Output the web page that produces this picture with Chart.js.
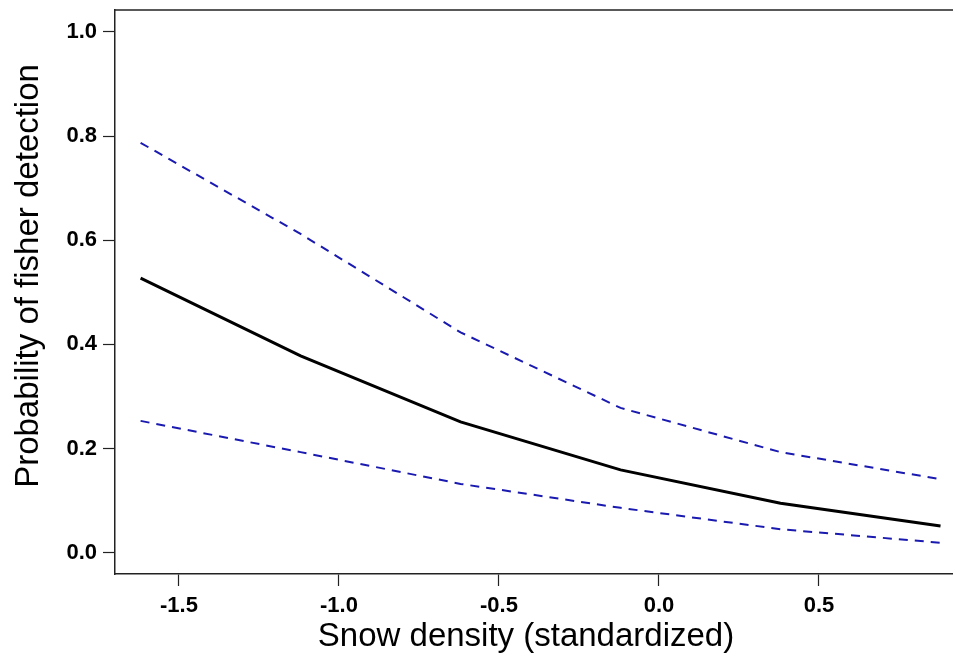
<!DOCTYPE html>
<html>
<head>
<meta charset="utf-8">
<script src="https://cdn.jsdelivr.net/npm/chart.js@4.4.0/dist/chart.umd.min.js"></script>
<style>
html,body{margin:0;padding:0;background:#fff;overflow:hidden;}
canvas{display:block;}
</style>
</head>
<body>
<canvas id="c" width="953" height="665"></canvas>
<script>
// Data
const snowDensity = [-1.62, -1.12, -0.62, -0.12, 0.38, 0.88];
const detectionMean = [0.527, 0.378, 0.251, 0.159, 0.095, 0.051];
const upperCI = [0.787, 0.612, 0.423, 0.278, 0.193, 0.141];
const lowerCI = [0.253, 0.193, 0.132, 0.086, 0.045, 0.019];
const xTicks = [-1.5, -1.0, -0.5, 0.0, 0.5];
const yTicks = [0.0, 0.2, 0.4, 0.6, 0.8, 1.0];

const pts = ys => snowDensity.map((x, i) => ({x: x, y: ys[i]}));

const topBorder = {
  id: 'topBorder',
  afterDraw(chart) {
    const {ctx, chartArea} = chart;
    ctx.save();
    ctx.strokeStyle = '#222';
    ctx.lineWidth = 1.5;
    ctx.beginPath();
    ctx.moveTo(chartArea.left, chartArea.top);
    ctx.lineTo(chart.width, chartArea.top);
    ctx.stroke();
    ctx.restore();
  }
};

// shift an axis title slightly along its axis (R centres titles on the figure region)
function shiftTitle(scale, dx, dy) {
  if (scale._titleShifted) return;
  scale._titleShifted = true;
  const orig = scale.drawTitle;
  scale.drawTitle = function () {
    const ctx = this.ctx;
    ctx.save();
    ctx.translate(dx, dy);
    orig.call(this);
    ctx.restore();
  };
}

const dashColor = '#1a1ab0';
const fam = 'Liberation Sans, Arial, sans-serif';

new Chart(document.getElementById('c'), {
  type: 'scatter',
  data: {
    datasets: [
      {data: pts(upperCI), showLine: true, borderColor: dashColor, borderWidth: 2, borderDash: [9, 7], pointRadius: 0, tension: 0},
      {data: pts(lowerCI), showLine: true, borderColor: dashColor, borderWidth: 2, borderDash: [9, 7], pointRadius: 0, tension: 0},
      {data: pts(detectionMean), showLine: true, borderColor: '#000', borderWidth: 3, pointRadius: 0, tension: 0}
    ]
  },
  options: {
    responsive: false,
    animation: false,
    layout: {padding: {top: 10, right: 0, left: 0, bottom: 0}},
    plugins: {legend: {display: false}, tooltip: {enabled: false}},
    scales: {
      x: {
        type: 'linear',
        min: -1.70,
        max: 0.919,
        afterFit(s) { s.height = 91; s.paddingLeft = 0; s.paddingRight = 0; shiftTitle(s, -8, 0); },
        afterBuildTicks(s) { s.ticks = xTicks.map(v => ({value: v})); },
        grid: {drawOnChartArea: false, drawTicks: true, tickLength: 12, tickColor: '#222', tickWidth: 1.2},
        border: {display: true, color: '#222', width: 1.5},
        ticks: {autoSkip: false, maxRotation: 0, padding: 7, color: '#000',
          font: {family: fam, size: 22, weight: 'bold'},
          callback: v => v.toFixed(1)},
        title: {display: true, text: 'Snow density (standardized)', color: '#000',
          font: {family: fam, size: 33}, padding: {top: 0, bottom: 8}}
      },
      y: {
        type: 'linear',
        min: -0.041,
        max: 1.042,
        afterFit(s) { s.width = 115; s.paddingTop = 0; s.paddingBottom = 0; shiftTitle(s, 0, -16); },
        afterBuildTicks(s) { s.ticks = yTicks.map(v => ({value: v})); },
        grid: {drawOnChartArea: false, drawTicks: true, tickLength: 12, tickColor: '#222', tickWidth: 1.2},
        border: {display: true, color: '#222', width: 1.5},
        ticks: {autoSkip: false, padding: 6, color: '#000',
          font: {family: fam, size: 22, weight: 'bold'},
          callback: v => v.toFixed(1)},
        title: {display: true, text: 'Probability of fisher detection', color: '#000',
          font: {family: fam, size: 33}, padding: {top: 9, bottom: 0}}
      }
    }
  },
  plugins: [topBorder]
});
</script>
</body>
</html>
